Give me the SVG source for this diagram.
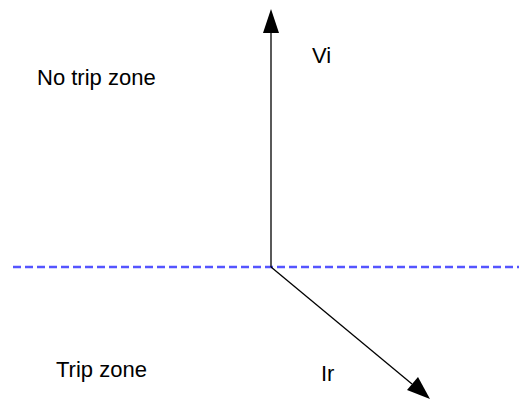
<svg xmlns="http://www.w3.org/2000/svg" width="519" height="401" viewBox="0 0 519 401">
<style>
text{font-family:"Liberation Sans",Arial,sans-serif;font-size:22px;fill:#000}
.ax{stroke:#000;stroke-width:1.3;fill:none}
</style>
<rect width="519" height="401" fill="#fff"/>
<g id="connectors">
<line x1="13" y1="267" x2="519" y2="267" stroke="#5555ff" stroke-width="2.5" stroke-dasharray="8,4"/>
<line class="ax" x1="271" y1="267" x2="271" y2="32"/>
<path d="M271,9 L263,33 L279,33 z" fill="#000"/>
<line class="ax" x1="271" y1="267" x2="412" y2="384"/>
<path d="M430,399 L407,390 L418,377 z" fill="#000"/>
</g>
<g id="no-trip"><text x="37" y="85">No trip zone</text></g>
<g id="vi"><text x="312" y="63">Vi</text></g>
<g id="trip"><text x="56" y="377">Trip zone</text></g>
<g id="ir"><text x="321" y="381">Ir</text></g>
</svg>
